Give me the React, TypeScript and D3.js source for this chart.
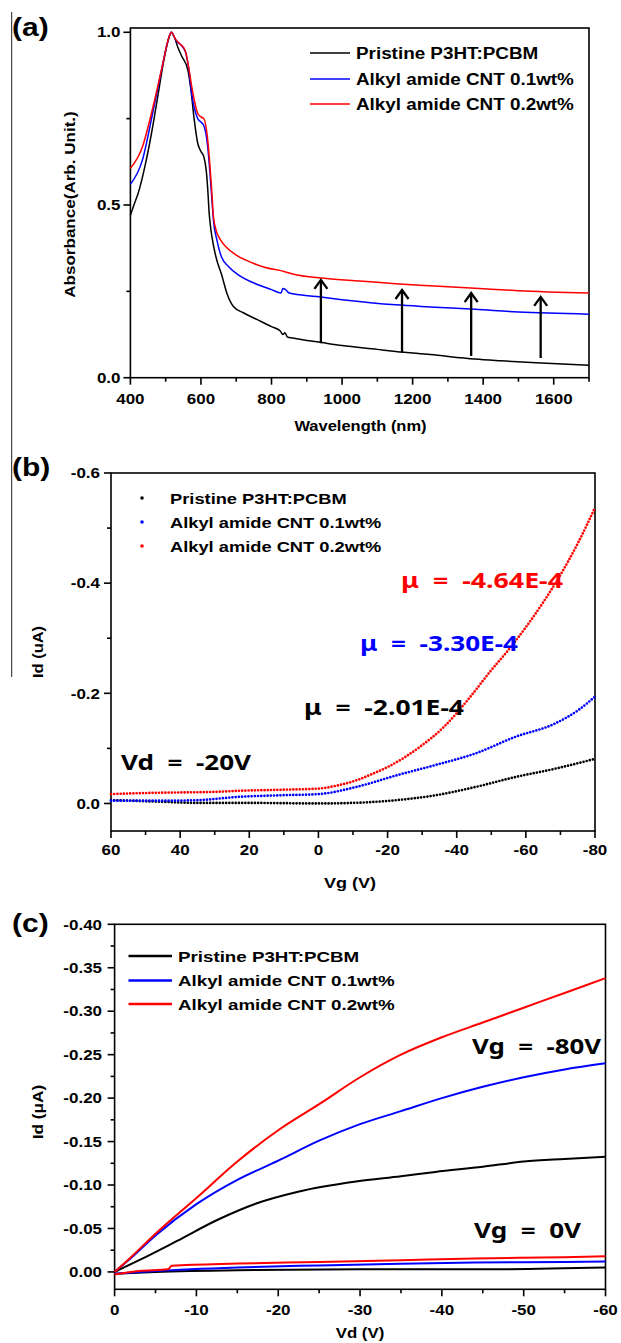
import React from "react";
import * as d3 from "d3";

const ARIAL = "'Liberation Sans', Arial, Helvetica, sans-serif";
const SANS = "'Noto Sans', 'Open Sans', sans-serif";
const BLACK = "#000000";
const BLUE = "#0000ff";
const RED = "#ff0000";

// ---------- Panel (a): absorbance ----------
const seriesNames = ["Pristine P3HT:PCBM", "Alkyl amide CNT 0.1wt%", "Alkyl amide CNT 0.2wt%"];
const seriesColors = [BLACK, BLUE, RED];

const wlMajor = [400, 600, 800, 1000, 1200, 1400, 1600];
const wlMinor = [500, 700, 900, 1100, 1300, 1500, 1700];
const absMajor = [0, 0.5, 1.0];
const absMinor = [0.25, 0.75];

const absPristine: [number, number][] = [
  [400, 0.47], [410, 0.5], [422, 0.534], [445, 0.63], [462, 0.72], [479, 0.823], [495, 0.92], [508, 0.98],
  [516, 1.0], [525, 0.985], [535, 0.955], [546, 0.93], [563, 0.89], [572, 0.83], [580, 0.755], [591, 0.678],
  [600, 0.655], [608, 0.64], [615, 0.6], [619, 0.55], [623, 0.48], [628, 0.43], [636, 0.38], [645, 0.34],
  [658, 0.3], [675, 0.24], [692, 0.206], [720, 0.188], [760, 0.168], [800, 0.148], [825, 0.135], [832, 0.125],
  [838, 0.13], [845, 0.118], [860, 0.115], [900, 0.108], [928, 0.104], [1000, 0.093], [1100, 0.082],
  [1152, 0.076], [1250, 0.067], [1377, 0.054], [1450, 0.049], [1550, 0.043], [1700, 0.036],
];
const absCnt01: [number, number][] = [
  [400, 0.56], [434, 0.63], [462, 0.76], [490, 0.9], [505, 0.97], [516, 1.0], [530, 0.975], [546, 0.96],
  [557, 0.94], [566, 0.89], [574, 0.82], [591, 0.75], [600, 0.74], [608, 0.73], [619, 0.67], [625, 0.6],
  [630, 0.53], [636, 0.45], [645, 0.4], [658, 0.35], [680, 0.32], [703, 0.3], [760, 0.27], [800, 0.255],
  [827, 0.245], [832, 0.258], [840, 0.255], [850, 0.245], [928, 0.235], [1000, 0.226], [1152, 0.211],
  [1250, 0.205], [1377, 0.198], [1500, 0.19], [1700, 0.184],
];
const absCnt02: [number, number][] = [
  [400, 0.606], [434, 0.668], [462, 0.775], [490, 0.9], [505, 0.97], [516, 1.0], [528, 0.98], [540, 0.967],
  [555, 0.948], [565, 0.9], [574, 0.842], [591, 0.765], [600, 0.755], [608, 0.75], [619, 0.69], [625, 0.62],
  [630, 0.55], [635, 0.47], [642, 0.43], [655, 0.4], [670, 0.38], [700, 0.355], [726, 0.341], [780, 0.32],
  [838, 0.307], [860, 0.3], [950, 0.288], [1050, 0.28], [1152, 0.272], [1250, 0.266], [1377, 0.259],
  [1500, 0.252], [1700, 0.245],
];
const arrowWl = [940, 1170, 1366, 1563];
const arrowFrom = [0.1, 0.074, 0.063, 0.057];
const arrowTo = [0.283, 0.254, 0.245, 0.234];

// ---------- Panel (b): transfer ----------
const vgMajor = [60, 40, 20, 0, -20, -40, -60, -80];
const vgMinor = [50, 30, 10, -10, -30, -50, -70];
const idbMajor = [-0.6, -0.4, -0.2, 0.0];
const idbMinor = [-0.5, -0.3, -0.1];

const tPristine: [number, number][] = [
  [60, -0.006], [45, -0.003], [35, -0.001], [20, -0.001], [0, 0], [-10, -0.001], [-22.6, -0.006],
  [-34, -0.015], [-45.5, -0.03], [-57, -0.048], [-68.4, -0.063], [-80, -0.081],
];
const tCnt01: [number, number][] = [
  [60, -0.005], [45, -0.005], [35, -0.006], [23, -0.012], [10, -0.015], [0, -0.017], [-11, -0.03],
  [-22.6, -0.051], [-34, -0.07], [-45.5, -0.091], [-57, -0.121], [-68.4, -0.145], [-75.3, -0.17], [-80, -0.194],
];
const tCnt02: [number, number][] = [
  [60, -0.017], [50, -0.019], [40, -0.02], [30, -0.021], [23, -0.023], [10, -0.025], [0, -0.027],
  [-5, -0.032], [-11, -0.042], [-15, -0.052], [-20.3, -0.067], [-25, -0.084], [-29.4, -0.103],
  [-36.3, -0.139], [-43.2, -0.188], [-50, -0.242], [-55, -0.279], [-60, -0.32], [-65, -0.365],
  [-70, -0.415], [-75, -0.472], [-80, -0.537],
];
const mobilityLabels = ["μ  =  -2.01E-4", "μ  =  -3.30E-4", "μ  =  -4.64E-4"];

// ---------- Panel (c): output ----------
const vdMajor = [0, -10, -20, -30, -40, -50, -60];
const vdMinor = [-5, -15, -25, -35, -45, -55];
const idcMajor = [-0.4, -0.35, -0.3, -0.25, -0.2, -0.15, -0.1, -0.05, 0];
const idcMinor = [-0.375, -0.325, -0.275, -0.225, -0.175, -0.125, -0.075, -0.025];

const oPristine80: [number, number][] = [
  [0, 0], [-3, -0.0135], [-7.7, -0.036], [-12.6, -0.06], [-17.4, -0.079], [-22.3, -0.092], [-29.5, -0.104],
  [-35, -0.11], [-39.2, -0.115], [-45, -0.121], [-50, -0.127], [-55, -0.13], [-60, -0.1325],
];
const oCnt01_80: [number, number][] = [
  [0, 0], [-2, -0.016], [-5, -0.042], [-10, -0.078], [-15, -0.106], [-20, -0.128], [-25, -0.151],
  [-30, -0.17], [-35, -0.185], [-40, -0.2], [-45, -0.213], [-50, -0.224], [-55, -0.233], [-60, -0.24],
];
const oCnt02_80: [number, number][] = [
  [0, 0], [-2, -0.017], [-5, -0.044], [-10, -0.085], [-15, -0.127], [-20, -0.163], [-25, -0.193],
  [-30, -0.224], [-35, -0.25], [-40, -0.27], [-45, -0.287], [-50, -0.304], [-55, -0.321], [-60, -0.338],
];
const oPristine0: [number, number][] = [
  [0, 0.002], [-5, 0.0], [-15, -0.002], [-30, -0.003], [-45, -0.003], [-60, -0.005],
];
const oCnt01_0: [number, number][] = [
  [0, 0.002], [-5, -0.001], [-15, -0.005], [-25, -0.0075], [-35, -0.0095], [-44, -0.0108], [-55, -0.0115], [-60, -0.012],
];
const oCnt02_0: [number, number][] = [
  [0, 0.003], [-3, -0.001], [-6.5, -0.003], [-7, -0.007], [-15, -0.0096], [-25, -0.0115], [-35, -0.0135],
  [-44, -0.0154], [-55, -0.017], [-60, -0.018],
];

// ---------- helpers ----------
type TP = {
  x: number; y: number; size: number; sx?: number; anchor?: string; fill?: string;
  weight?: number; family?: string; rotate?: number; children: React.ReactNode; tl?: number;
};
function T({ x, y, size, sx = 1, anchor = "start", fill = "#000", weight = 700, family = ARIAL, rotate = 0, children, tl }: TP) {
  if (tl) {
    return (
      <text x={x} y={y} fontSize={size} fill={fill} fontWeight={weight} fontFamily={family}
        textLength={tl} lengthAdjust="spacingAndGlyphs" textAnchor={anchor} style={{ whiteSpace: "pre" }}>
        {children}
      </text>
    );
  }
  return (
    <text transform={`translate(${x},${y}) rotate(${rotate}) scale(${sx},1)`} fontSize={size} fill={fill}
      fontWeight={weight} fontFamily={family} textAnchor={anchor} style={{ whiteSpace: "pre" }}>
      {children}
    </text>
  );
}

type AxProps = {
  xs: d3.ScaleLinear<number, number>; ys: d3.ScaleLinear<number, number>;
  xMajor: number[]; xMinor: number[]; yMajor: number[]; yMinor: number[];
  xFmt: (v: number) => string; yFmt: (v: number) => string; xLabBase: number; yLabRight: number;
};
function Axes({ xs, ys, xMajor, xMinor, yMajor, yMinor, xFmt, yFmt, xLabBase, yLabRight }: AxProps) {
  const [x0, x1] = xs.range();
  const [yb, yt] = ys.range();
  const sw = 1.6;
  return (
    <g>
      <rect x={x0} y={yt} width={x1 - x0} height={yb - yt} fill="none" stroke="#000" strokeWidth={sw} />
      {xMajor.map((v) => (
        <line key={"xM" + v} x1={xs(v)} x2={xs(v)} y1={yb} y2={yb + 7} stroke="#000" strokeWidth={sw} />
      ))}
      {xMinor.map((v) => (
        <line key={"xm" + v} x1={xs(v)} x2={xs(v)} y1={yb} y2={yb + 4} stroke="#000" strokeWidth={sw} />
      ))}
      {yMajor.map((v) => (
        <line key={"yM" + v} x1={x0} x2={x0 - 7} y1={ys(v)} y2={ys(v)} stroke="#000" strokeWidth={sw} />
      ))}
      {yMinor.map((v) => (
        <line key={"ym" + v} x1={x0} x2={x0 - 4} y1={ys(v)} y2={ys(v)} stroke="#000" strokeWidth={sw} />
      ))}
      {xMajor.map((v) => (
        <T key={"xl" + v} x={xs(v)} y={xLabBase} size={14.5} sx={1.17} anchor="middle">{xFmt(v)}</T>
      ))}
      {yMajor.map((v) => (
        <T key={"yl" + v} x={yLabRight} y={ys(v) + 5.2} size={14.5} sx={1.17} anchor="end">{yFmt(v)}</T>
      ))}
    </g>
  );
}

export default function App() {
  const xA = d3.scaleLinear().domain([400, 1700]).range([130.4, 589]);
  const yA = d3.scaleLinear().domain([0, 1.0124]).range([377.7, 28]);
  const xB = d3.scaleLinear().domain([60, -80]).range([111, 595]);
  const yB = d3.scaleLinear().domain([0.05, -0.6]).range([831, 473]);
  const xC = d3.scaleLinear().domain([0, -60]).range([114.6, 605.5]);
  const yC = d3.scaleLinear().domain([0.02, -0.4]).range([1289.3, 924.3]);

  const lineA = d3.line<[number, number]>().x((d) => xA(d[0])).y((d) => yA(d[1])).curve(d3.curveMonotoneX);
  const lineB = d3.line<[number, number]>().x((d) => xB(d[0])).y((d) => yB(d[1])).curve(d3.curveMonotoneX);
  const lineC = d3.line<[number, number]>().x((d) => xC(d[0])).y((d) => yC(d[1])).curve(d3.curveMonotoneX);

  const absSeries = [absPristine, absCnt01, absCnt02];
  const tSeries = [tPristine, tCnt01, tCnt02];
  const o80 = [oPristine80, oCnt01_80, oCnt02_80];
  const o0 = [oPristine0, oCnt01_0, oCnt02_0];

  const legA = [53, 79, 104];
  const legB = [498, 522, 546];
  const legC = [956, 980.5, 1004];

  return (
    <div style={{ position: "absolute", left: 0, top: 0, width: 621, height: 1343, background: "#fff" }}>
      <svg width={621} height={1343} viewBox="0 0 621 1343" style={{ display: "block" }}>
        <rect x={0} y={0} width={621} height={1343} fill="#fff" />
        <line x1={11.7} x2={11.7} y1={12} y2={677} stroke="#222" strokeWidth={1} />

        {/* ===== Panel (a) ===== */}
        <T x={12} y={36} size={25} sx={1.2}>(a)</T>
        <Axes xs={xA} ys={yA} xMajor={wlMajor} xMinor={wlMinor} yMajor={absMajor} yMinor={absMinor}
          xFmt={(v) => String(v)} yFmt={(v) => v.toFixed(1)} xLabBase={403.5} yLabRight={120.5} />
        {absSeries.map((s, i) => (
          <path key={"a" + i} d={lineA(s) || ""} fill="none" stroke={seriesColors[i]} strokeWidth={1.5} />
        ))}
        {arrowWl.map((w, i) => {
          const x = xA(w);
          const y0 = yA(arrowFrom[i]);
          const y1 = yA(arrowTo[i]);
          return (
            <g key={"arr" + i} stroke="#000" strokeWidth={2.3} fill="none">
              <line x1={x} x2={x} y1={y0} y2={y1 + 1} />
              <polyline points={`${x - 6.5},${y1 + 9} ${x},${y1} ${x + 6.5},${y1 + 9}`} strokeLinejoin="miter" />
            </g>
          );
        })}
        {seriesNames.map((n, i) => (
          <g key={"la" + i}>
            <line x1={310} x2={350} y1={legA[i]} y2={legA[i]} stroke={seriesColors[i]} strokeWidth={1.6} />
            <T x={356} y={legA[i] + 6} size={17} sx={1.11}>{n}</T>
          </g>
        ))}
        <T x={360.5} y={431} size={15} sx={1.1} anchor="middle">Wavelength (nm)</T>
        <T x={75} y={204.5} size={15.5} sx={1.1} anchor="middle" rotate={-90}>Absorbance(Arb. Unit.)</T>

        {/* ===== Panel (b) ===== */}
        <T x={12} y={476} size={25} sx={1.2}>(b)</T>
        <Axes xs={xB} ys={yB} xMajor={vgMajor} xMinor={vgMinor} yMajor={idbMajor} yMinor={idbMinor}
          xFmt={(v) => String(v)} yFmt={(v) => (v === 0 ? "0.0" : v.toFixed(1))} xLabBase={855} yLabRight={100} />
        {tSeries.map((s, i) => (
          <path key={"b" + i} d={lineB(s) || ""} fill="none" stroke={seriesColors[i]} strokeWidth={2.7}
            strokeLinecap="round" strokeDasharray="0 3.2" />
        ))}
        {seriesNames.map((n, i) => (
          <g key={"lb" + i}>
            <circle cx={142} cy={legB[i]} r={1.8} fill={seriesColors[i]} />
            <T x={170} y={legB[i] + 5.5} size={15.5} sx={1.18}>{n}</T>
          </g>
        ))}
        <T x={401} y={588} size={22} family={SANS} fill={RED} tl={162}>{mobilityLabels[2]}</T>
        <T x={360} y={651} size={22} family={SANS} fill={BLUE} tl={158}>{mobilityLabels[1]}</T>
        <T x={304} y={715} size={22} family={SANS} fill={BLACK} tl={160}>{mobilityLabels[0]}</T>
        <T x={121} y={770} size={22} family={SANS} fill={BLACK} tl={130}>{"Vd  =  -20V"}</T>
        <T x={350} y={888} size={15} sx={1.2} anchor="middle">Vg (V)</T>
        <T x={43} y={652} size={15} sx={1.1} anchor="middle" rotate={-90}>Id (uA)</T>

        {/* ===== Panel (c) ===== */}
        <T x={12} y={932} size={25} sx={1.2}>(c)</T>
        <Axes xs={xC} ys={yC} xMajor={vdMajor} xMinor={vdMinor} yMajor={idcMajor} yMinor={idcMinor}
          xFmt={(v) => String(v)} yFmt={(v) => (v === 0 ? "0.00" : v.toFixed(2))} xLabBase={1315} yLabRight={102} />
        {o0.map((s, i) => (
          <path key={"c0" + i} d={lineC(s) || ""} fill="none" stroke={seriesColors[i]} strokeWidth={2} />
        ))}
        {o80.map((s, i) => (
          <path key={"c8" + i} d={lineC(s) || ""} fill="none" stroke={seriesColors[i]} strokeWidth={2} />
        ))}
        {seriesNames.map((n, i) => (
          <g key={"lc" + i}>
            <line x1={128.5} x2={172} y1={legC[i]} y2={legC[i]} stroke={seriesColors[i]} strokeWidth={2.5} />
            <T x={178} y={legC[i] + 5.5} size={15.5} sx={1.21}>{n}</T>
          </g>
        ))}
        <T x={472} y={1054} size={22} family={SANS} fill={BLACK} tl={129}>{"Vg  =  -80V"}</T>
        <T x={474} y={1238} size={22} family={SANS} fill={BLACK} tl={107}>{"Vg  =  0V"}</T>
        <T x={360} y={1338} size={15} sx={1.12} anchor="middle">Vd (V)</T>
        <T x={43} y={1112} size={15} sx={1.15} anchor="middle" rotate={-90}>Id (μA)</T>
      </svg>
    </div>
  );
}
